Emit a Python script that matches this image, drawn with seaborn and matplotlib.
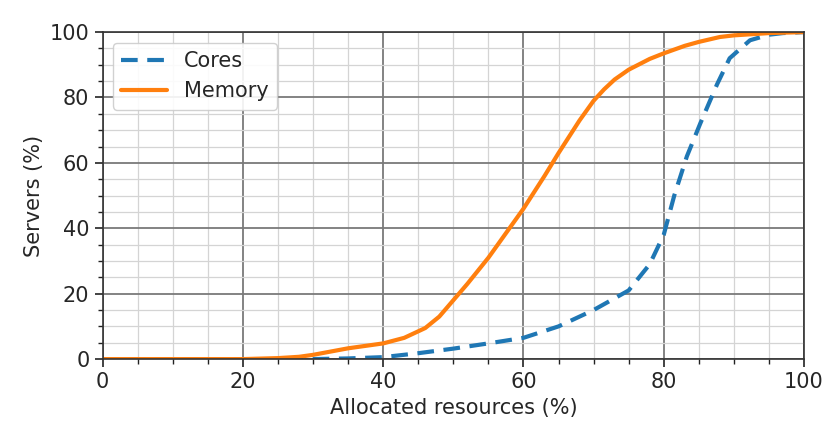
import matplotlib
matplotlib.use("Agg")
import matplotlib.pyplot as plt
import seaborn as sns
import pandas as pd
from matplotlib.ticker import MultipleLocator

sns.set_style("white")
plt.rcParams['font.family'] = ['DejaVu Sans']

cores_x = [0, 30, 35, 40, 45, 50, 55, 60, 65, 70, 75, 78, 80, 81.5, 83.3, 85.2, 87.6, 89.4, 92.3, 95, 97, 100]
cores_y = [0, 0, 0.2, 0.6, 1.8, 3.2, 4.8, 6.5, 10, 15, 21, 29, 38, 50, 62, 72, 84, 92, 97.5, 99.2, 99.7, 100]

mem_x = [0, 20, 25, 28, 30, 33, 35, 40, 43, 46, 48, 50, 52, 55, 58, 60, 63, 65, 68, 70, 71.5, 73, 75, 78, 80, 83, 85, 88, 90, 95, 100]
mem_y = [0, 0, 0.3, 0.7, 1.3, 2.5, 3.3, 4.8, 6.5, 9.5, 13, 18, 23, 31, 40, 46, 56, 63, 73, 79, 82.5, 85.5, 88.5, 91.8, 93.5, 95.8, 97, 98.5, 99, 99.7, 100]

df = pd.concat([
    pd.DataFrame({"x": cores_x, "y": cores_y, "Series": "Cores"}),
    pd.DataFrame({"x": mem_x, "y": mem_y, "Series": "Memory"}),
])

FS = 15

fig = plt.figure(figsize=(8.28, 4.28), dpi=100)
ax = fig.add_axes([0.124, 0.161, 0.847, 0.764])

sns.lineplot(data=df, x="x", y="y", hue="Series", style="Series",
             palette={"Cores": "#1f77b4", "Memory": "#ff7f0e"},
             dashes={"Cores": (4, 2.3), "Memory": ""},
             linewidth=3, ax=ax, sort=False, estimator=None)

ax.set_xlim(0, 100)
ax.set_ylim(0, 100)
ax.xaxis.set_major_locator(MultipleLocator(20))
ax.yaxis.set_major_locator(MultipleLocator(20))
ax.xaxis.set_minor_locator(MultipleLocator(5))
ax.yaxis.set_minor_locator(MultipleLocator(5))
ax.grid(which="major", color="#7a7a7a", linewidth=1.3)
ax.grid(which="minor", color="#d4d4d4", linewidth=0.9)
ax.set_axisbelow(True)
ax.tick_params(which="major", direction="out", length=6, width=1.2, labelsize=FS, color="#222222", left=True, bottom=True)
ax.tick_params(which="minor", direction="out", length=3.5, width=1, color="#222222", left=True, bottom=True)
for s in ax.spines.values():
    s.set_color("#333333")
    s.set_linewidth(1.2)

ax.set_xlabel("Allocated resources (%)", fontsize=FS)
ax.set_ylabel("Servers (%)", fontsize=FS)

leg = ax.legend(loc="upper left", fontsize=FS, handlelength=2.2, framealpha=0.9)
leg.set_title(None)

fig.savefig("out.png", dpi=100)
